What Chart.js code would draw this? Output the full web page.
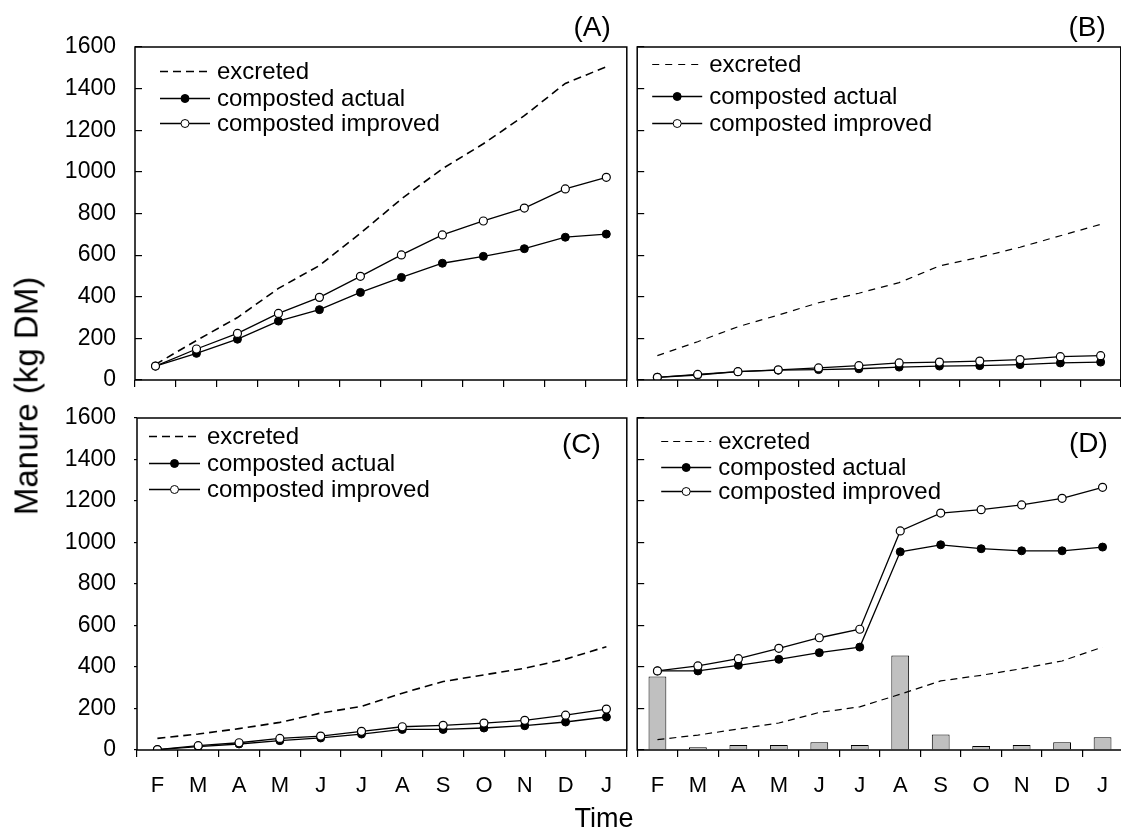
<!DOCTYPE html>
<html>
<head>
<meta charset="utf-8">
<title>Manure excreted and composted</title>
<script src="https://cdn.jsdelivr.net/npm/chart.js@4.4.1/dist/chart.umd.min.js"></script>
<style>
html, body { margin: 0; padding: 0; overflow: hidden; background: #fff; }
body { width: 1121px; height: 830px; position: relative; font-family: 'Liberation Sans', Arial, sans-serif; color: #000; }
canvas { position: absolute; display: block; }
#chartA { left: 0; top: 0; }
#chartB { left: 632px; top: 0; }
#chartC { left: 0; top: 400px; }
#chartD { left: 632px; top: 400px; }
#ytitle { position: absolute; left: 26px; top: 396px; font-size: 33px; line-height: 33px; white-space: nowrap;
          transform: translate(-50%, -50%) rotate(-90deg); }
#xtitle { position: absolute; left: 604px; top: 805px; font-size: 27px; line-height: 27px; white-space: nowrap;
          transform: translateX(-50%); }
</style>
</head>
<body>
<canvas id="chartA" width="632" height="400"></canvas>
<canvas id="chartB" width="494" height="400"></canvas>
<canvas id="chartC" width="632" height="430"></canvas>
<canvas id="chartD" width="496" height="430"></canvas>
<div id="ytitle">Manure (kg DM)</div>
<div id="xtitle">Time</div>
<script>
var months = ['F', 'M', 'A', 'M', 'J', 'J', 'A', 'S', 'O', 'N', 'D', 'J'];

var excretedA = [75, 190, 300, 440, 550, 705, 870, 1015, 1135, 1270, 1425, 1505];
var actualA = [67, 128, 196, 283, 338, 421, 493, 561, 594, 631, 686, 701];
var improvedA = [67, 149, 224, 320, 397, 498, 601, 697, 764, 826, 918, 974];

var excretedB = [117, 184, 256, 312, 371, 417, 468, 548, 590, 638, 693, 748];
var actualB = [13, 24, 40, 47, 50, 54, 62, 67, 69, 74, 82, 86];
var improvedB = [13, 27, 40, 49, 58, 69, 82, 86, 91, 98, 112, 117];

var excretedC = [56, 77, 103, 133, 178, 210, 274, 330, 362, 394, 438, 498];
var actualC = [2, 16, 29, 45, 58, 77, 99, 99, 106, 117, 135, 159];
var improvedC = [2, 21, 35, 56, 67, 90, 112, 119, 130, 143, 168, 197];

var excretedD = [50, 72, 101, 130, 181, 208, 269, 333, 360, 392, 429, 496];
var actualD = [381, 381, 408, 437, 469, 496, 955, 989, 970, 960, 960, 978];
var improvedD = [381, 405, 440, 490, 541, 582, 1056, 1142, 1158, 1181, 1213, 1266];
var barD = [354, 13, 24, 24, 37, 24, 456, 75, 19, 24, 37, 61];

var family = "'Liberation Sans', Arial, sans-serif";
Chart.defaults.font.family = family;
Chart.defaults.color = '#000';

// frame, panel letter and the line+marker legend drawn inside the plot
var panelDecor = {
    id: 'panelDecor',
    afterDraw: function (chart, args, opts) {
        var ctx = chart.ctx, a = chart.chartArea;
        ctx.save();
        ctx.strokeStyle = '#000';
        ctx.lineWidth = 1.5;
        ctx.setLineDash([]);
        ctx.strokeRect(a.left, a.top, a.right - a.left, a.bottom - a.top);

        ctx.fillStyle = '#000';
        ctx.font = '28px ' + family;
        ctx.textAlign = 'right';
        ctx.textBaseline = 'middle';
        ctx.fillText(opts.label, a.right + opts.labelX, a.top + opts.labelY);

        var lg = opts.legend;
        ctx.font = '24px ' + family;
        ctx.textAlign = 'left';
        ctx.textBaseline = 'alphabetic';
        lg.rows.forEach(function (ry, i) {
            var ds = chart.data.datasets[i];
            var y = a.top + ry + 0.5;
            ctx.beginPath();
            ctx.strokeStyle = '#000';
            ctx.lineWidth = ds.borderWidth;
            ctx.setLineDash(ds.borderDash || []);
            ctx.moveTo(a.left + lg.x0, y);
            ctx.lineTo(a.left + lg.x1, y);
            ctx.stroke();
            ctx.setLineDash([]);
            if (ds.pointRadius > 0) {
                ctx.beginPath();
                ctx.arc(a.left + (lg.x0 + lg.x1) / 2, y, ds.pointRadius, 0, Math.PI * 2);
                ctx.fillStyle = ds.pointBackgroundColor;
                ctx.fill();
                ctx.lineWidth = 1;
                ctx.stroke();
            }
            ctx.fillStyle = '#000';
            ctx.fillText(ds.label, a.left + lg.tx, y + 7);
        });
        ctx.restore();
    }
};

function lineSets(excreted, actual, improved, dashWidth, dash) {
    return [
        { label: 'excreted', data: excreted, borderColor: '#000', borderWidth: dashWidth, borderDash: dash,
          pointRadius: 0, fill: false, order: 2 },
        { label: 'composted actual', data: actual, borderColor: '#000', borderWidth: 1.3,
          pointRadius: 4, pointBackgroundColor: '#000', pointBorderColor: '#000', pointBorderWidth: 1, order: 1 },
        { label: 'composted improved', data: improved, borderColor: '#000', borderWidth: 1.3,
          pointRadius: 4, pointBackgroundColor: '#fff', pointBorderColor: '#000', pointBorderWidth: 1.2, order: 0 }
    ];
}

function makePanel(id, datasets, p) {
    return new Chart(document.getElementById(id), {
        type: 'line',
        data: { labels: months, datasets: datasets },
        options: {
            responsive: false,
            animation: false,
            layout: { padding: { top: p.padTop, right: p.padRight, left: 0, bottom: 0 } },
            elements: { line: { tension: 0 } },
            scales: {
                x: {
                    type: 'category',
                    offset: true,
                    border: { display: false },
                    grid: { offset: true, drawOnChartArea: false, color: '#000', lineWidth: 1.2, tickLength: 7 },
                    ticks: { display: p.showX, autoSkip: false, maxRotation: 0, padding: 16, font: { size: 22 } },
                    afterFit: function (s) {
                        s.height = p.xHeight;
                        s.paddingLeft = 0;
                        s.paddingRight = 0;
                    }
                },
                y: {
                    min: 0,
                    max: 1600,
                    border: { display: false },
                    grid: { drawOnChartArea: false, color: '#000', lineWidth: 1.2, tickLength: p.yTick },
                    ticks: {
                        display: p.showY, stepSize: 200, padding: p.yPad, font: { size: 23 },
                        callback: function (v) { return String(v); }
                    },
                    afterFit: function (s) {
                        s.width = p.yWidth;
                        s.paddingTop = 0;
                        s.paddingBottom = 0;
                    }
                }
            },
            plugins: {
                legend: { display: false },
                tooltip: { enabled: false },
                panelDecor: { label: p.label, labelX: p.labelX, labelY: p.labelY, legend: p.legend }
            }
        },
        plugins: [panelDecor]
    });
}

makePanel('chartA', lineSets(excretedA, actualA, improvedA, 1.6, [8, 5]), {
    padTop: 47, padRight: 5, xHeight: 20, yWidth: 135, yTick: -7, yPad: 26,
    showX: false, showY: true, label: '(A)', labelX: -16, labelY: -19,
    legend: { x0: 25, x1: 75, tx: 82, rows: [24, 51, 76] }
});

makePanel('chartB', lineSets(excretedB, actualB, improvedB, 1.2, [7, 6]), {
    padTop: 47, padRight: 0, xHeight: 20, yWidth: 2, yTick: -7, yPad: 0,
    showX: false, showY: false, label: '(B)', labelX: -15, labelY: -19,
    legend: { x0: 15, x1: 65, tx: 72, rows: [17, 49, 76] }
});

makePanel('chartC', lineSets(excretedC, actualC, improvedC, 1.6, [8, 5]), {
    padTop: 18, padRight: 3, xHeight: 80, yWidth: 137, yTick: 3, yPad: 18,
    showX: true, showY: true, label: '(C)', labelX: -26, labelY: 27,
    legend: { x0: 12, x1: 63, tx: 70, rows: [18, 45, 71] }
});

var setsD = lineSets(excretedD, actualD, improvedD, 1.2, [7, 5]);
setsD.push({
    type: 'bar', label: 'bars', data: barD, backgroundColor: '#c0c0c0', borderColor: '#000',
    borderWidth: 1, barPercentage: 0.44, categoryPercentage: 1, order: 3
});
makePanel('chartD', setsD, {
    padTop: 18, padRight: 0, xHeight: 80, yWidth: 2, yTick: -7, yPad: 0,
    showX: true, showY: false, label: '(D)', labelX: -15, labelY: 26,
    legend: { x0: 24, x1: 74, tx: 81, rows: [23, 49, 73] }
});
</script>
</body>
</html>
